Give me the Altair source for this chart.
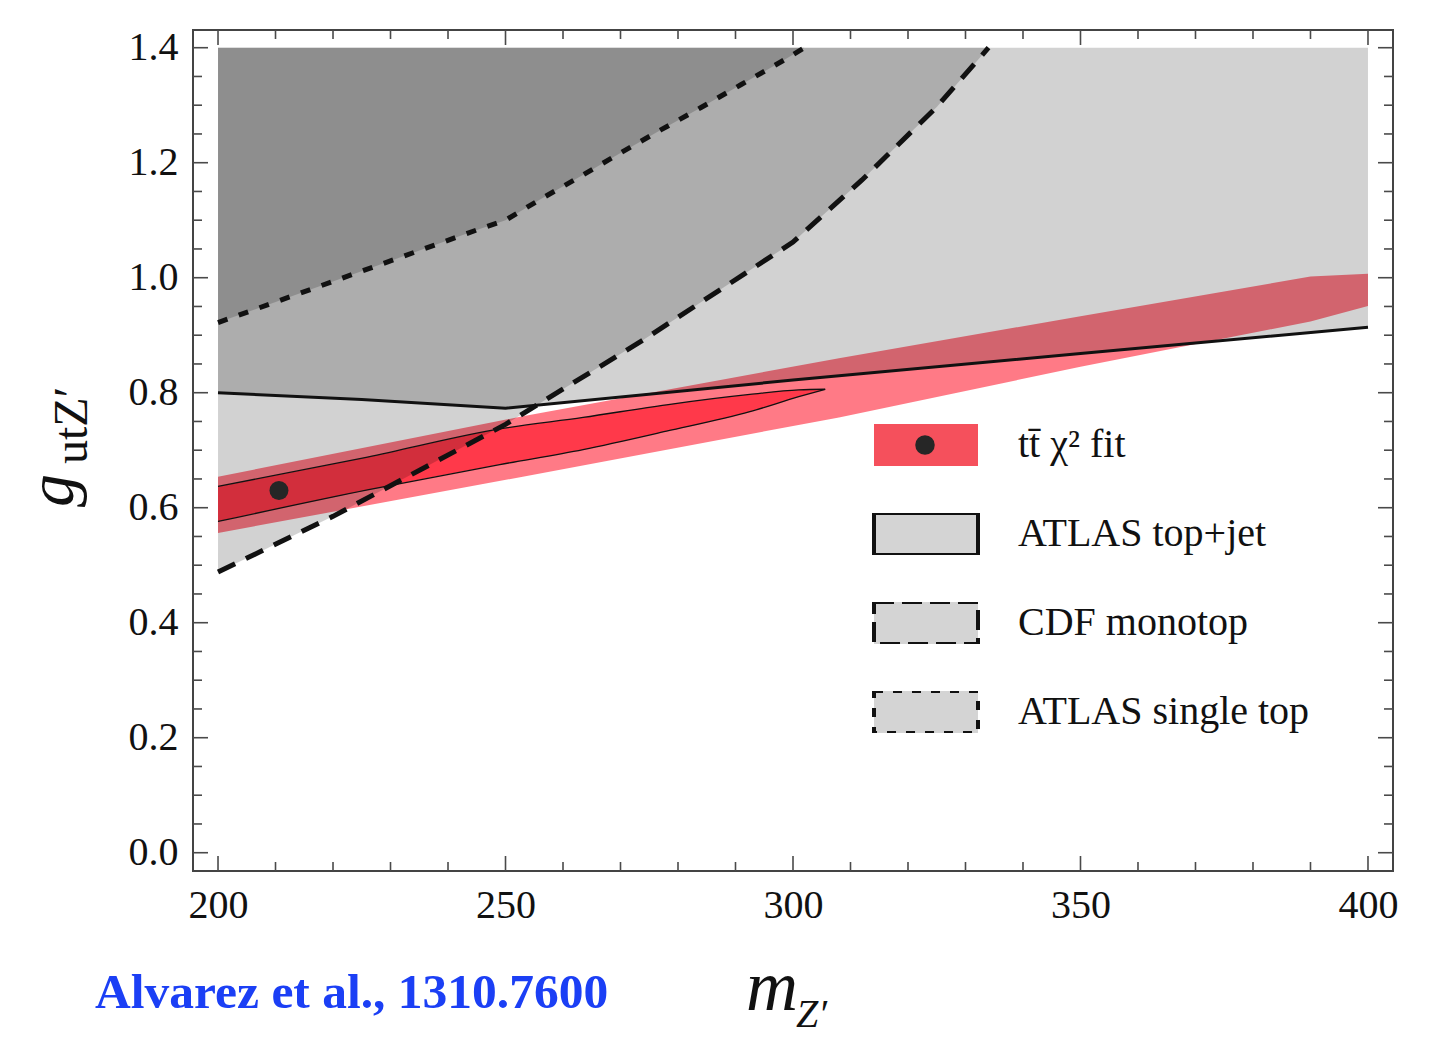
import altair as alt
import pandas as pd

# ---------------- data ----------------
x_major = [200, 250, 300, 350, 400]
x_minor = [210, 220, 230, 240, 260, 270, 280, 290, 310, 320, 330, 340, 360, 370, 380, 390]
y_major = [0.0, 0.2, 0.4, 0.6, 0.8, 1.0, 1.2, 1.4]
y_minor = [0.05, 0.1, 0.15, 0.25, 0.3, 0.35, 0.45, 0.5, 0.55, 0.65, 0.7, 0.75,
           0.85, 0.9, 0.95, 1.05, 1.1, 1.15, 1.25, 1.3, 1.35]

# ATLAS single top exclusion boundary (dotted)
st_x = [200, 245, 250, 256, 263, 270, 277, 284, 291, 298, 302]
st_y = [0.922, 1.083, 1.100, 1.136, 1.176, 1.217, 1.257, 1.296, 1.336, 1.376, 1.400]

# CDF monotop exclusion boundary (dashed)
cdf_x = [200, 220, 250, 274, 300, 312, 325, 334]
cdf_y = [0.488, 0.585, 0.745, 0.892, 1.062, 1.170, 1.297, 1.400]

# ATLAS top+jet exclusion boundary (solid)
tj_x = [200, 225, 250, 300, 350, 400]
tj_y = [0.800, 0.788, 0.773, 0.822, 0.868, 0.914]

# t tbar chi^2 fit: outer (2 sigma) band
b2_x = [200, 253, 308, 350, 390, 400]
b2_lo = [0.556, 0.654, 0.757, 0.845, 0.924, 0.951]
b2_hi = [0.654, 0.759, 0.860, 0.933, 1.002, 1.007]

# inner (1 sigma) contour
b1_x = [200, 226, 249, 263.5, 278, 292.5, 301, 305.6]
b1_lo = [0.576, 0.631, 0.675, 0.701, 0.733, 0.767, 0.793, 0.806]
b1_hi = [0.637, 0.688, 0.737, 0.757, 0.779, 0.797, 0.805, 0.806]

# best fit point
fit_x = [210.6]
fit_y = [0.630]

legend_labels = ["tt\u0304 \u03c7\u00b2 fit", "ATLAS top+jet", "CDF monotop", "ATLAS single top"]
legend_fill = ["#f5505c", "#d4d4d4", "#d4d4d4", "#d4d4d4"]
legend_stroke = ["transparent", "#111111", "#111111", "#111111"]
legend_dash = [[1, 0], [1, 0], [20, 8], [9, 10]]

# ---------------- layout ----------------
W, H = 1200, 841
FONT = "Liberation Serif"
TICK = "#4a4a4a"

xs = alt.Scale(domain=[195.65, 404.35], nice=False, zero=False)
ys = alt.Scale(domain=[-0.0318, 1.4308], nice=False, zero=False)

x_axis = alt.Axis(values=x_major, format="d", labelFont=FONT, labelFontSize=40,
                  labelColor="#111111", labelPadding=14, ticks=False, tickSize=0,
                  domain=False, grid=False, title=None, labelFlush=False)
y_axis = alt.Axis(values=y_major, format=".1f", labelFont=FONT, labelFontSize=40,
                  labelColor="#111111", labelPadding=15, ticks=False, tickSize=0,
                  domain=False, grid=False, title=None, labelFlush=False)


def X(field):
    return alt.X(field, type="quantitative", scale=xs, axis=x_axis)


def Y(field):
    return alt.Y(field, type="quantitative", scale=ys, axis=y_axis)


band2 = pd.DataFrame({"x": b2_x, "lo": b2_lo, "hi": b2_hi})
band1 = pd.DataFrame({"x": b1_x, "lo": b1_lo, "hi": b1_hi})
st_df = pd.DataFrame({"x": st_x, "y": st_y})
cdf_df = pd.DataFrame({"x": cdf_x, "y": cdf_y})
tj_df = pd.DataFrame({"x": tj_x, "y": tj_y})

outline = pd.concat([
    pd.DataFrame({"x": b1_x, "y": b1_hi, "edge": "upper"}),
    pd.DataFrame({"x": b1_x, "y": b1_lo, "edge": "lower"}),
])

RED = "#ff1a2e"

layers = []
# red bands (under the grey exclusions)
layers.append(alt.Chart(band2).mark_area(color=RED, opacity=0.58).encode(
    x=X("x"), y=Y("lo"), y2="hi"))
layers.append(alt.Chart(band1).mark_area(color=RED, opacity=0.68, interpolate="monotone").encode(
    x=X("x"), y=Y("lo"), y2="hi"))

# grey excluded regions
for df in (tj_df, cdf_df, st_df):
    layers.append(alt.Chart(df).mark_area(color="#000000", opacity=0.178).encode(
        x=X("x"), y=Y("y"), y2=alt.datum(1.4)))

# 1 sigma outline
layers.append(alt.Chart(outline).mark_line(color="#111111", strokeWidth=1.3, interpolate="monotone").encode(
    x=X("x"), y=Y("y"), detail="edge:N"))

# boundary lines
layers.append(alt.Chart(tj_df).mark_line(color="#111111", strokeWidth=3).encode(
    x=X("x"), y=Y("y")))
layers.append(alt.Chart(cdf_df).mark_line(color="#111111", strokeWidth=5, strokeDash=[19, 12]).encode(
    x=X("x"), y=Y("y")))
layers.append(alt.Chart(st_df).mark_line(color="#111111", strokeWidth=5, strokeDash=[10, 12]).encode(
    x=X("x"), y=Y("y")))

# best-fit point (its legend symbol is the dot on the red swatch)
dot_legend = alt.Legend(title=None, orient="none", legendX=722, legendY=405, padding=0,
                        symbolType="circle", symbolSize=380, symbolOpacity=1, zindex=2,
                        symbolStrokeWidth=0, labelExpr="''", direction="vertical")
layers.append(alt.Chart(pd.DataFrame({"x": fit_x, "y": fit_y, "k": ["fit"]})).mark_point(
    filled=True, opacity=1, size=360).encode(
    x=X("x"), y=Y("y"),
    color=alt.Color("k:N", scale=alt.Scale(domain=["fit"], range=["#262626"]), legend=dot_legend)))

# legend entries
PATH = "M-1,-0.404H1V0.404H-1Z"
series_legend = alt.Legend(title=None, orient="none", legendX=679, legendY=394, padding=0,
                           direction="vertical", symbolSize=10816, symbolStrokeWidth=4,
                           symbolOpacity=1, clipHeight=42, rowPadding=47, zindex=1,
                           labelFont=FONT, labelFontSize=40, labelColor="#111111",
                           labelOffset=38, labelLimit=700)
leg_df = pd.DataFrame({"series": legend_labels})
layers.append(alt.Chart(leg_df).mark_point(filled=True, opacity=0).encode(
    fill=alt.Fill("series:N", scale=alt.Scale(domain=legend_labels, range=legend_fill), legend=series_legend),
    stroke=alt.Stroke("series:N", scale=alt.Scale(domain=legend_labels, range=legend_stroke), legend=series_legend),
    strokeDash=alt.StrokeDash("series:N", scale=alt.Scale(domain=legend_labels, range=legend_dash), legend=series_legend),
    shape=alt.Shape("series:N", scale=alt.Scale(domain=legend_labels, range=[PATH] * 4), legend=series_legend),
))

# inward frame ticks
MAJ, MIN = 15, 9
for vals, ln in ((x_major, MAJ), (x_minor, MIN)):
    d = pd.DataFrame({"v": vals})
    layers.append(alt.Chart(d).mark_rule(color=TICK, strokeWidth=1.6).encode(
        x=X("v"), y=alt.value(H), y2=alt.value(H - ln)))
    layers.append(alt.Chart(d).mark_rule(color=TICK, strokeWidth=1.6).encode(
        x=X("v"), y=alt.value(0), y2=alt.value(ln)))
for vals, ln in ((y_major, MAJ), (y_minor, MIN)):
    d = pd.DataFrame({"v": vals})
    layers.append(alt.Chart(d).mark_rule(color=TICK, strokeWidth=1.6).encode(
        y=Y("v"), x=alt.value(0), x2=alt.value(ln)))
    layers.append(alt.Chart(d).mark_rule(color=TICK, strokeWidth=1.6).encode(
        y=Y("v"), x=alt.value(W), x2=alt.value(W - ln)))


def text(t, x, y, size, style="normal", weight="normal", color="#111111", angle=0):
    return alt.Chart(pd.DataFrame({"t": [t]})).mark_text(
        font=FONT, fontSize=size, fontStyle=style, fontWeight=weight, color=color,
        angle=angle, align="left", baseline="alphabetic").encode(
        x=alt.value(x), y=alt.value(y), text="t:N")


# axis titles (with subscripts) and citation
layers.append(text("m", 553, 980, 72, style="italic"))
layers.append(text("Z\u2032", 603, 997, 40, style="italic"))
layers.append(text("g", -120, 477, 66, style="italic", angle=270))
layers.append(text("utZ\u2032", -106, 434, 48, angle=270))
layers.append(text("Alvarez et al., 1310.7600", -98, 978, 49.5, weight="bold", color="#1b3ff5"))

chart = alt.layer(*layers).properties(
    width=W, height=H,
    autosize=alt.AutoSizeParams(type="none"),
    padding={"left": 185, "top": 22, "right": 38, "bottom": 167},
    background="white",
).configure_view(stroke="#444444", strokeWidth=2)

chart.save("out.html", embed_options={"renderer": "svg", "actions": False})
